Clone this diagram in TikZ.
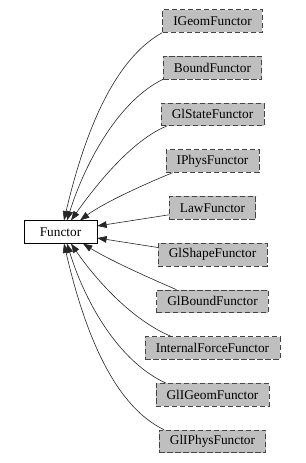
\documentclass[tikz,border=0pt]{standalone}
\usepackage{fontspec}
\setmainfont{Liberation Serif}
\usetikzlibrary{arrows.meta,calc}
\definecolor{boxgray}{HTML}{BFBFBF}
\definecolor{rimgray}{HTML}{454545}
\begin{document}
\begin{tikzpicture}[x=0.75pt,y=-0.75pt,
    base/.style={draw=black,fill=white,minimum width=54.75pt,minimum height=17pt,
      inner xsep=8pt,font=\fontsize{10}{12}\selectfont},
    derived/.style={base,draw=rimgray,fill=boxgray,dash pattern=on 4pt off 2pt},
    inherit/.style={-{Triangle[length=7pt,width=5pt]},draw=black!85,line width=0.45pt}]
  % Display coordinates: pixels from the top left corner.
  \useasboundingbox (0,0) rectangle (305,463);

  % Base class.
  \node[base] (functor) at (60.5,232) {Functor};

  % Derived classes, one row each.
  \foreach \k/\name/\txt in {0/igeom/IGeomFunctor,1/bound/BoundFunctor,
      2/glstate/GlStateFunctor,3/iphys/IPhysFunctor,4/law/LawFunctor,
      5/glshape/GlShapeFunctor,6/glbound/GlBoundFunctor,
      7/intforce/InternalForceFunctor,8/gligeom/GlIGeomFunctor,
      9/gliphys/GlIPhysFunctor}{
    \pgfmathsetmacro{\ry}{21+46.7*\k}
    \node[derived] (\name) at (212.5,\ry) {\txt};
  }

  % Upper inheritance arrows.
  \draw[inherit] (igeom.south west) .. controls (113,60) and (84,135)
    .. ($(functor.north)+(3.5,0)$);
  \draw[inherit] (bound.south west) .. controls (120,100) and (86,160)
    .. ($(functor.north)+(6.5,0)$);
  \draw[inherit] ($(glstate.south west)+(6,0)$) .. controls (132,140) and (96,185)
    .. ($(functor.north)+(10.5,0)$);
  \draw[inherit] ($(iphys.south west)+(7,0)$) .. controls (140,186) and (102,204)
    .. ($(functor.north)+(19.5,0)$);

  % Nearly straight arrows.
  \draw[inherit] ($(law.west)+(0,7)$) -- ($(functor.east)+(0,-6)$);
  \draw[inherit] ($(glshape.west)+(0,-7)$) -- ($(functor.east)+(0,6)$);

  % Lower inheritance arrows.
  \draw[inherit] ($(glbound.north west)+(20,0)$) .. controls (140,274) and (106,258)
    .. ($(functor.south)+(22.5,0)$);
  \draw[inherit] ($(intforce.north west)+(26,0)$) .. controls (132,320) and (96,280)
    .. ($(functor.south)+(10.5,0)$);
  \draw[inherit] ($(gligeom.north west)+(10,0)$) .. controls (120,362) and (86,305)
    .. ($(functor.south)+(6.5,0)$);
  \draw[inherit] ($(gliphys.north west)+(5,0)$) .. controls (113,405) and (84,330)
    .. ($(functor.south)+(3.5,0)$);
\end{tikzpicture}
\end{document}
